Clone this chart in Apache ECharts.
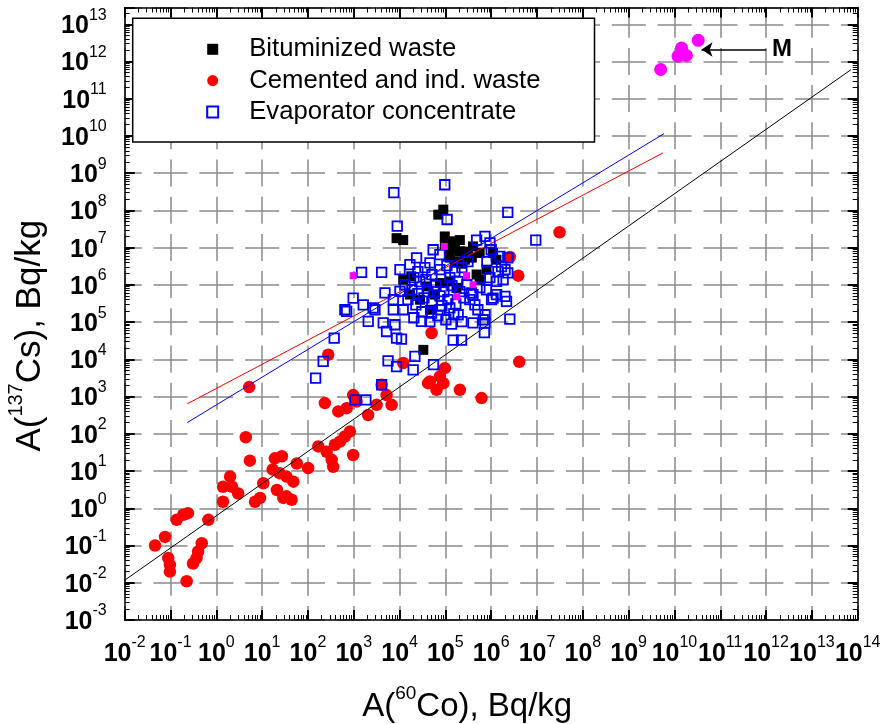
<!DOCTYPE html>
<html>
<head>
<meta charset="utf-8">
<script src="https://cdn.jsdelivr.net/npm/echarts@6/dist/echarts.min.js"></script>
<style>
  html, body { margin: 0; padding: 0; background: #fff; }
  #chart { width: 881px; height: 724px; }
</style>
</head>
<body>
<div id="chart"></div>
<script>
// Axis ranges, in decades (log10 of Bq/kg)
const xDecadeMin = -2;
const xDecadeMax = 14;
const yDecadeMin = -3;
const yDecadeMax = 13.45;

// Bituminized waste: [A(60Co), A(137Cs)], Bq/kg
const bituminized = [
  [70000, 7.7e7], [90000, 1.05e8], [8600, 1.8e7], [12000, 1.6e7], [97000, 2.0e7],
  [148000, 1.48e7], [207000, 1.6e7], [125000, 8.8e6], [207000, 8.0e6], [266000, 4.75e6],
  [161000, 4.3e6], [33000, 18000], [18000, 1.7e6], [12000, 1.38e6], [39000, 9.1e5],
  [59000, 5.5e5], [76000, 1.12e6], [125000, 1.24e6], [175000, 8.3e5], [7.9e5, 2.56e6],
  [1.1e6, 7.2e6], [1.3e6, 4.75e6], [5.6e5, 1.38e6], [4.0e5, 1.08e7], [5.6e5, 7.2e6],
  [4.8e5, 1.9e6], [28000, 4.0e5], [46000, 2.15e5], [16800, 5.5e5], [97500, 1.2e7],
  [161000, 1.0e7], [310000, 7.8e6], [125000, 5.4e6], [229000, 3.7e6], [378000, 5.4e6]
];

// Cemented and ind. waste
const cemented = [
  [0.046, 0.10], [0.076, 0.17], [0.089, 0.046], [0.097, 0.030], [0.097, 0.020],
  [0.136, 0.49], [0.19, 0.67], [0.24, 0.74], [0.225, 0.011], [0.31, 0.033],
  [0.37, 0.046], [0.40, 0.069], [0.48, 0.115], [0.67, 0.49], [4.4, 81],
  [5.4, 19], [5.2, 1800], [2.0, 7.1], [1.4, 3.8], [2.2, 3.8],
  [3.0, 2.5], [1.4, 1.5], [7.0, 1.5], [9.0, 1.9], [10.6, 4.7],
  [19, 22], [27, 25], [17, 11], [24, 8.8], [34, 7.1],
  [21, 3.1], [34, 2.1], [44, 1.7], [29, 1.9], [48, 5.2],
  [57, 16], [101, 12], [168, 46], [256, 33], [330, 20],
  [356, 13], [388, 51], [500, 62], [640, 85], [820, 115],
  [970, 27], [234, 670], [460, 400], [700, 490], [970, 1100],
  [1150, 740], [2060, 320], [3150, 600], [4060, 2080], [5200, 1100],
  [6700, 600], [277, 13300], [12000, 8000], [50000, 51000], [46000, 2550],
  [64000, 1520], [90000, 2300], [42000, 2300], [97000, 5800], [207000, 1520],
  [616000, 910], [4.1e6, 8600], [2.55e6, 5.6e6], [3.9e6, 1.77e6], [3.1e7, 2.6e7],
  [76000, 3500]
];

// Evaporator concentrate
const evaporator = [
  [97000, 4.9e8], [7500, 3.0e8], [2.3e6, 8.9e7], [109000, 5.7e7], [8900, 3.8e7],
  [9.4e6, 1.6e7], [7.3e5, 2.0e7], [9.4e5, 1.34e7], [1.0e6, 8.8e6], [4.8e5, 1.6e7],
  [54000, 8.8e6], [76000, 6.5e6], [1480, 2.17e6], [4060, 2.17e6], [10200, 2.56e6],
  [46000, 3.9e6], [23500, 5.3e6], [970, 4.4e5], [700, 1.94e5], [640, 2.15e5],
  [1610, 2.9e5], [2900, 2.15e5], [4800, 6.1e5], [7300, 2.15e5], [12000, 2.15e5],
  [10200, 6.7e5], [2070, 1.05e5], [4400, 95000], [7900, 85000], [5200, 56000],
  [8600, 37000], [11000, 35000], [374, 37000], [215, 8800], [147, 3140],
  [5600, 9100], [8600, 6400], [21600, 12000], [19800, 5250], [55000, 7200],
  [30000, 1.05e5], [136000, 88000], [148000, 33000], [225000, 33000], [4.0e5, 95000],
  [7.3e5, 95000], [7.1e5, 52000], [2.55e6, 1.2e5], [4060, 2080], [1060, 820],
  [1840, 820], [1.55e6, 5.8e6], [2.3e6, 5.3e6], [1.68e6, 3.1e6], [2.3e6, 2.1e6],
  [1.31e6, 1.24e6], [2.0e6, 4.9e5], [2.16e6, 3.6e5], [1.31e6, 5.5e5], [1.02e6, 4.0e5],
  [7.3e5, 1.58e5], [6.7e5, 1.16e5], [3.7e5, 6.1e5], [4.4e5, 2.9e5], [1.82e6, 1.38e6],
  [2.0e6, 2.56e6], [1.1e6, 4.4e5], [7.9e5, 7.4e5], [4.0e5, 5.5e5], [1.9e5, 1.58e5],
  [125000, 2.4e5], [76000, 2.15e5], [50000, 1.76e5], [7300, 4.0e5], [2650, 2.4e5],
  [16800, 3.5e6], [25100, 2.26e6], [35700, 2.9e6], [50700, 1.88e6], [75900, 2.56e6],
  [108000, 3.3e6], [161000, 2.26e6], [229000, 2.9e6], [310000, 4.2e6], [13060, 1.01e6],
  [18600, 7.4e5], [27700, 1.22e6], [41500, 6.6e5], [62100, 9.5e5], [92700, 6.6e5],
  [139000, 9.5e5], [207000, 6.6e5], [294000, 1.01e6], [15200, 4.0e5], [22700, 2.9e5],
  [34000, 4.5e5], [50700, 3.5e5], [75900, 5.1e5], [113000, 4.0e5], [169000, 3.1e5],
  [253000, 4.5e5], [20500, 1.31e5], [30700, 1.9e5], [45900, 1.03e5], [68500, 1.49e5],
  [102500, 1.16e5], [153000, 1.68e5], [229000, 1.03e5], [342000, 4.0e5], [512000, 2.15e5],
  [566000, 8.4e5], [935000, 1.56e6], [1.40e6, 2.26e6], [805000, 4.2e6], [20500, 1.56e6],
  [37500, 1.38e6], [125000, 1.56e6], [56100, 6.6e5], [83800, 2.76e5], [25100, 5.8e5],
  [187000, 1.22e6]
];

// Other samples (magenta squares, not in the legend)
const otherSamples = [
  [970, 1.77e6], [95000, 1.08e7], [2.9e5, 1.77e6], [4.0e5, 1.01e6], [1.78e5, 4.8e5]
];

// Group "M"
const groupM = [
  [5.0e9, 6.1e11], [1.43e10, 2.3e12], [1.2e10, 1.39e12], [1.83e10, 1.45e12], [3.3e10, 3.7e12]
];
const labelM = 'M';
const arrowM = [[1.0e12, 2.1e12], [3.9e10, 2.1e12]];

// Regression lines, end points
const fitAll = [[0.01, 0.0117], [7.1e13, 6.0e11]];
const fitCemented = [[0.232, 640], [5.6e9, 3.5e9]];
const fitEvaporator = [[0.232, 201], [5.9e9, 1.15e10]];

const L = Math.log10;
const toDecades = pts => pts.map(p => [L(p[0]), L(p[1])]);

// log-scale minor tick positions (2..9 within every decade)
function minorTicks(lo, hi) {
  const out = [];
  for (let d = Math.floor(lo); d < hi; d++) {
    for (let k = 2; k <= 9; k++) {
      const v = d + L(k);
      if (v > lo && v < hi) out.push(v);
    }
  }
  return out;
}

const FONT = '"Liberation Sans", Arial, Helvetica, sans-serif';
const tickRich = {
  b: { fontFamily: FONT, fontWeight: 'bold', fontSize: 25, lineHeight: 26, padding: [4, 0, 0, 0], color: '#000' },
  s: { fontFamily: FONT, fontSize: 16, lineHeight: 16, padding: [0, 0, 18, 0], color: '#000' }
};
const xTitleRich = {
  t: { fontFamily: FONT, fontSize: 33, lineHeight: 35, padding: [4, 0, 0, 0], color: '#000' },
  u: { fontFamily: FONT, fontSize: 19, lineHeight: 19, padding: [0, 0, 22, 0], color: '#000' }
};
const yTitleRich = {
  t: { fontFamily: FONT, fontSize: 35, lineHeight: 37, padding: [4, 0, 0, 0], color: '#000' },
  u: { fontFamily: FONT, fontSize: 20, lineHeight: 20, padding: [0, 0, 24, 0], color: '#000' }
};
function powerLabel(v) {
  const r = Math.round(v);
  if (Math.abs(v - r) > 1e-6) return '';
  return '{b|10}{s|' + r + '}';
}

const frameLine = { show: true, onZero: false, lineStyle: { color: '#000', width: 1.5 } };
const gridBox = { left: 124.7, right: 23.3, top: 7.5, bottom: 104, containLabel: false, outerBoundsMode: 'none' };
// dashes centred on the crossings of the grid
const xStep = 45.83;
const yStep = 37.2;
const hGrid = { show: true, lineStyle: { color: '#8a8a8a', width: 1.5, type: [34, xStep - 34], dashOffset: 17 } };
const vGrid = { show: true, lineStyle: { color: '#8a8a8a', width: 1.5, type: [27, yStep - 27], dashOffset: 34 } };

const xRange = { type: 'value', min: xDecadeMin, max: xDecadeMax, interval: 1 };
const yRange = { type: 'value', min: yDecadeMin, max: yDecadeMax, interval: 1 };

const majorTick = { show: true, inside: true, length: 10, lineStyle: { color: '#000', width: 2 } };
const minorTickX = { show: true, inside: true, length: 5, lineStyle: { color: '#000', width: 1 },
  customValues: minorTicks(xDecadeMin, xDecadeMax) };
const minorTickY = { show: true, inside: true, length: 5, lineStyle: { color: '#000', width: 1 },
  customValues: minorTicks(yDecadeMin, yDecadeMax) };

const chart = echarts.init(document.getElementById('chart'), null, { renderer: 'canvas' });

chart.setOption({
  animation: false,
  backgroundColor: '#fff',
  grid: [gridBox, gridBox, gridBox, gridBox].map(g => Object.assign({}, g)),
  xAxis: [
    Object.assign({}, xRange, {
      gridIndex: 0, position: 'bottom',
      axisLine: frameLine, axisTick: majorTick,
      axisLabel: { formatter: powerLabel, rich: tickRich, margin: 19 },
      splitLine: vGrid,
      name: '{t|A(}{u|60}{t|Co), Bq/kg}',
      nameLocation: 'middle', nameGap: 67,
      nameTextStyle: { rich: xTitleRich, padding: [0, 48, 0, 0] }
    }),
    Object.assign({}, xRange, {
      gridIndex: 1, position: 'top',
      axisLine: frameLine, axisTick: majorTick,
      axisLabel: { show: false }, splitLine: { show: false }
    }),
    Object.assign({}, xRange, {
      gridIndex: 2, position: 'bottom',
      axisLine: { show: false, onZero: false }, axisTick: minorTickX,
      axisLabel: { show: false }, splitLine: { show: false }
    }),
    Object.assign({}, xRange, {
      gridIndex: 3, position: 'top',
      axisLine: { show: false, onZero: false }, axisTick: minorTickX,
      axisLabel: { show: false }, splitLine: { show: false }
    })
  ],
  yAxis: [
    Object.assign({}, yRange, {
      gridIndex: 0, position: 'left',
      axisLine: frameLine, axisTick: majorTick,
      axisLabel: { formatter: powerLabel, rich: tickRich, margin: 18 },
      splitLine: hGrid,
      name: '{t|A(}{u|137}{t|Cs), Bq/kg}',
      nameLocation: 'middle', nameGap: 67,
      nameTextStyle: { rich: yTitleRich, padding: [0, 44, 0, 0] }
    }),
    Object.assign({}, yRange, {
      gridIndex: 1, position: 'right',
      axisLine: frameLine, axisTick: majorTick,
      axisLabel: { show: false }, splitLine: { show: false }
    }),
    Object.assign({}, yRange, {
      gridIndex: 2, position: 'left',
      axisLine: { show: false, onZero: false }, axisTick: minorTickY,
      axisLabel: { show: false }, splitLine: { show: false }
    }),
    Object.assign({}, yRange, {
      gridIndex: 3, position: 'right',
      axisLine: { show: false, onZero: false }, axisTick: minorTickY,
      axisLabel: { show: false }, splitLine: { show: false }
    })
  ],
  legend: {
    data: [
      { name: 'Bituminized waste', icon: 'rect' },
      { name: 'Cemented and ind. waste', icon: 'circle' },
      { name: 'Evaporator concentrate', icon: 'rect' }
    ],
    orient: 'vertical',
    left: 132.7, top: 18.3,
    padding: [17, 54, 16, 73.5],
    itemGap: 3.3, itemWidth: 11, itemHeight: 11,
    borderColor: '#000', borderWidth: 1.5, backgroundColor: '#fff',
    textStyle: { fontFamily: FONT, fontSize: 25.7, lineHeight: 28, color: '#000', padding: [0, 0, 0, 26] },
    selectedMode: false
  },
  series: [
    {
      name: 'Bituminized waste', type: 'scatter', xAxisIndex: 0, yAxisIndex: 0,
      symbol: 'rect', symbolSize: 10,
      itemStyle: { color: '#000', opacity: 1 },
      emphasis: { disabled: true },
      data: toDecades(bituminized), z: 2
    },
    {
      name: 'Cemented and ind. waste', type: 'scatter', xAxisIndex: 0, yAxisIndex: 0,
      symbol: 'circle', symbolSize: 12.5,
      itemStyle: { color: '#ff0000', opacity: 1 },
      emphasis: { disabled: true },
      data: toDecades(cemented), z: 3
    },
    {
      name: 'fit-all', type: 'line', xAxisIndex: 0, yAxisIndex: 0,
      showSymbol: false, symbol: 'none', silent: true,
      lineStyle: { color: '#000', width: 1 },
      data: toDecades(fitAll), z: 4
    },
    {
      name: 'fit-cemented', type: 'line', xAxisIndex: 0, yAxisIndex: 0,
      showSymbol: false, symbol: 'none', silent: true,
      lineStyle: { color: '#ff0000', width: 1 },
      data: toDecades(fitCemented), z: 4
    },
    {
      name: 'fit-evaporator', type: 'line', xAxisIndex: 0, yAxisIndex: 0,
      showSymbol: false, symbol: 'none', silent: true,
      lineStyle: { color: '#0000ff', width: 1 },
      data: toDecades(fitEvaporator), z: 4
    },
    {
      name: 'Evaporator concentrate', type: 'scatter', xAxisIndex: 0, yAxisIndex: 0,
      symbol: 'rect', symbolSize: 9.5,
      itemStyle: { color: 'rgba(255,255,255,0)', borderColor: '#0000ff', borderWidth: 1.8, opacity: 1 },
      emphasis: { disabled: true },
      data: toDecades(evaporator), z: 5
    },
    {
      name: 'other', type: 'scatter', xAxisIndex: 0, yAxisIndex: 0,
      symbol: 'rect', symbolSize: 7,
      itemStyle: { color: '#ff00ff', opacity: 1 },
      emphasis: { disabled: true },
      data: toDecades(otherSamples), z: 6
    },
    {
      name: 'M', type: 'scatter', xAxisIndex: 0, yAxisIndex: 0,
      symbol: 'circle', symbolSize: 13,
      itemStyle: { color: '#ff00ff', opacity: 1 },
      emphasis: { disabled: true },
      data: toDecades(groupM), z: 6,
      markLine: {
        silent: true, animation: false,
        symbol: ['none', 'arrow'], symbolSize: 11,
        lineStyle: { color: '#000', width: 1.5, type: 'solid' },
        label: { show: true, position: 'start', formatter: labelM, distance: 6,
          fontFamily: FONT, fontWeight: 'bold', fontSize: 24, color: '#000' },
        emphasis: { disabled: true },
        data: [[{ coord: [L(arrowM[0][0]), L(arrowM[0][1])] }, { coord: [L(arrowM[1][0]), L(arrowM[1][1])] }]]
      }
    }
  ]
});
</script>
</body>
</html>
